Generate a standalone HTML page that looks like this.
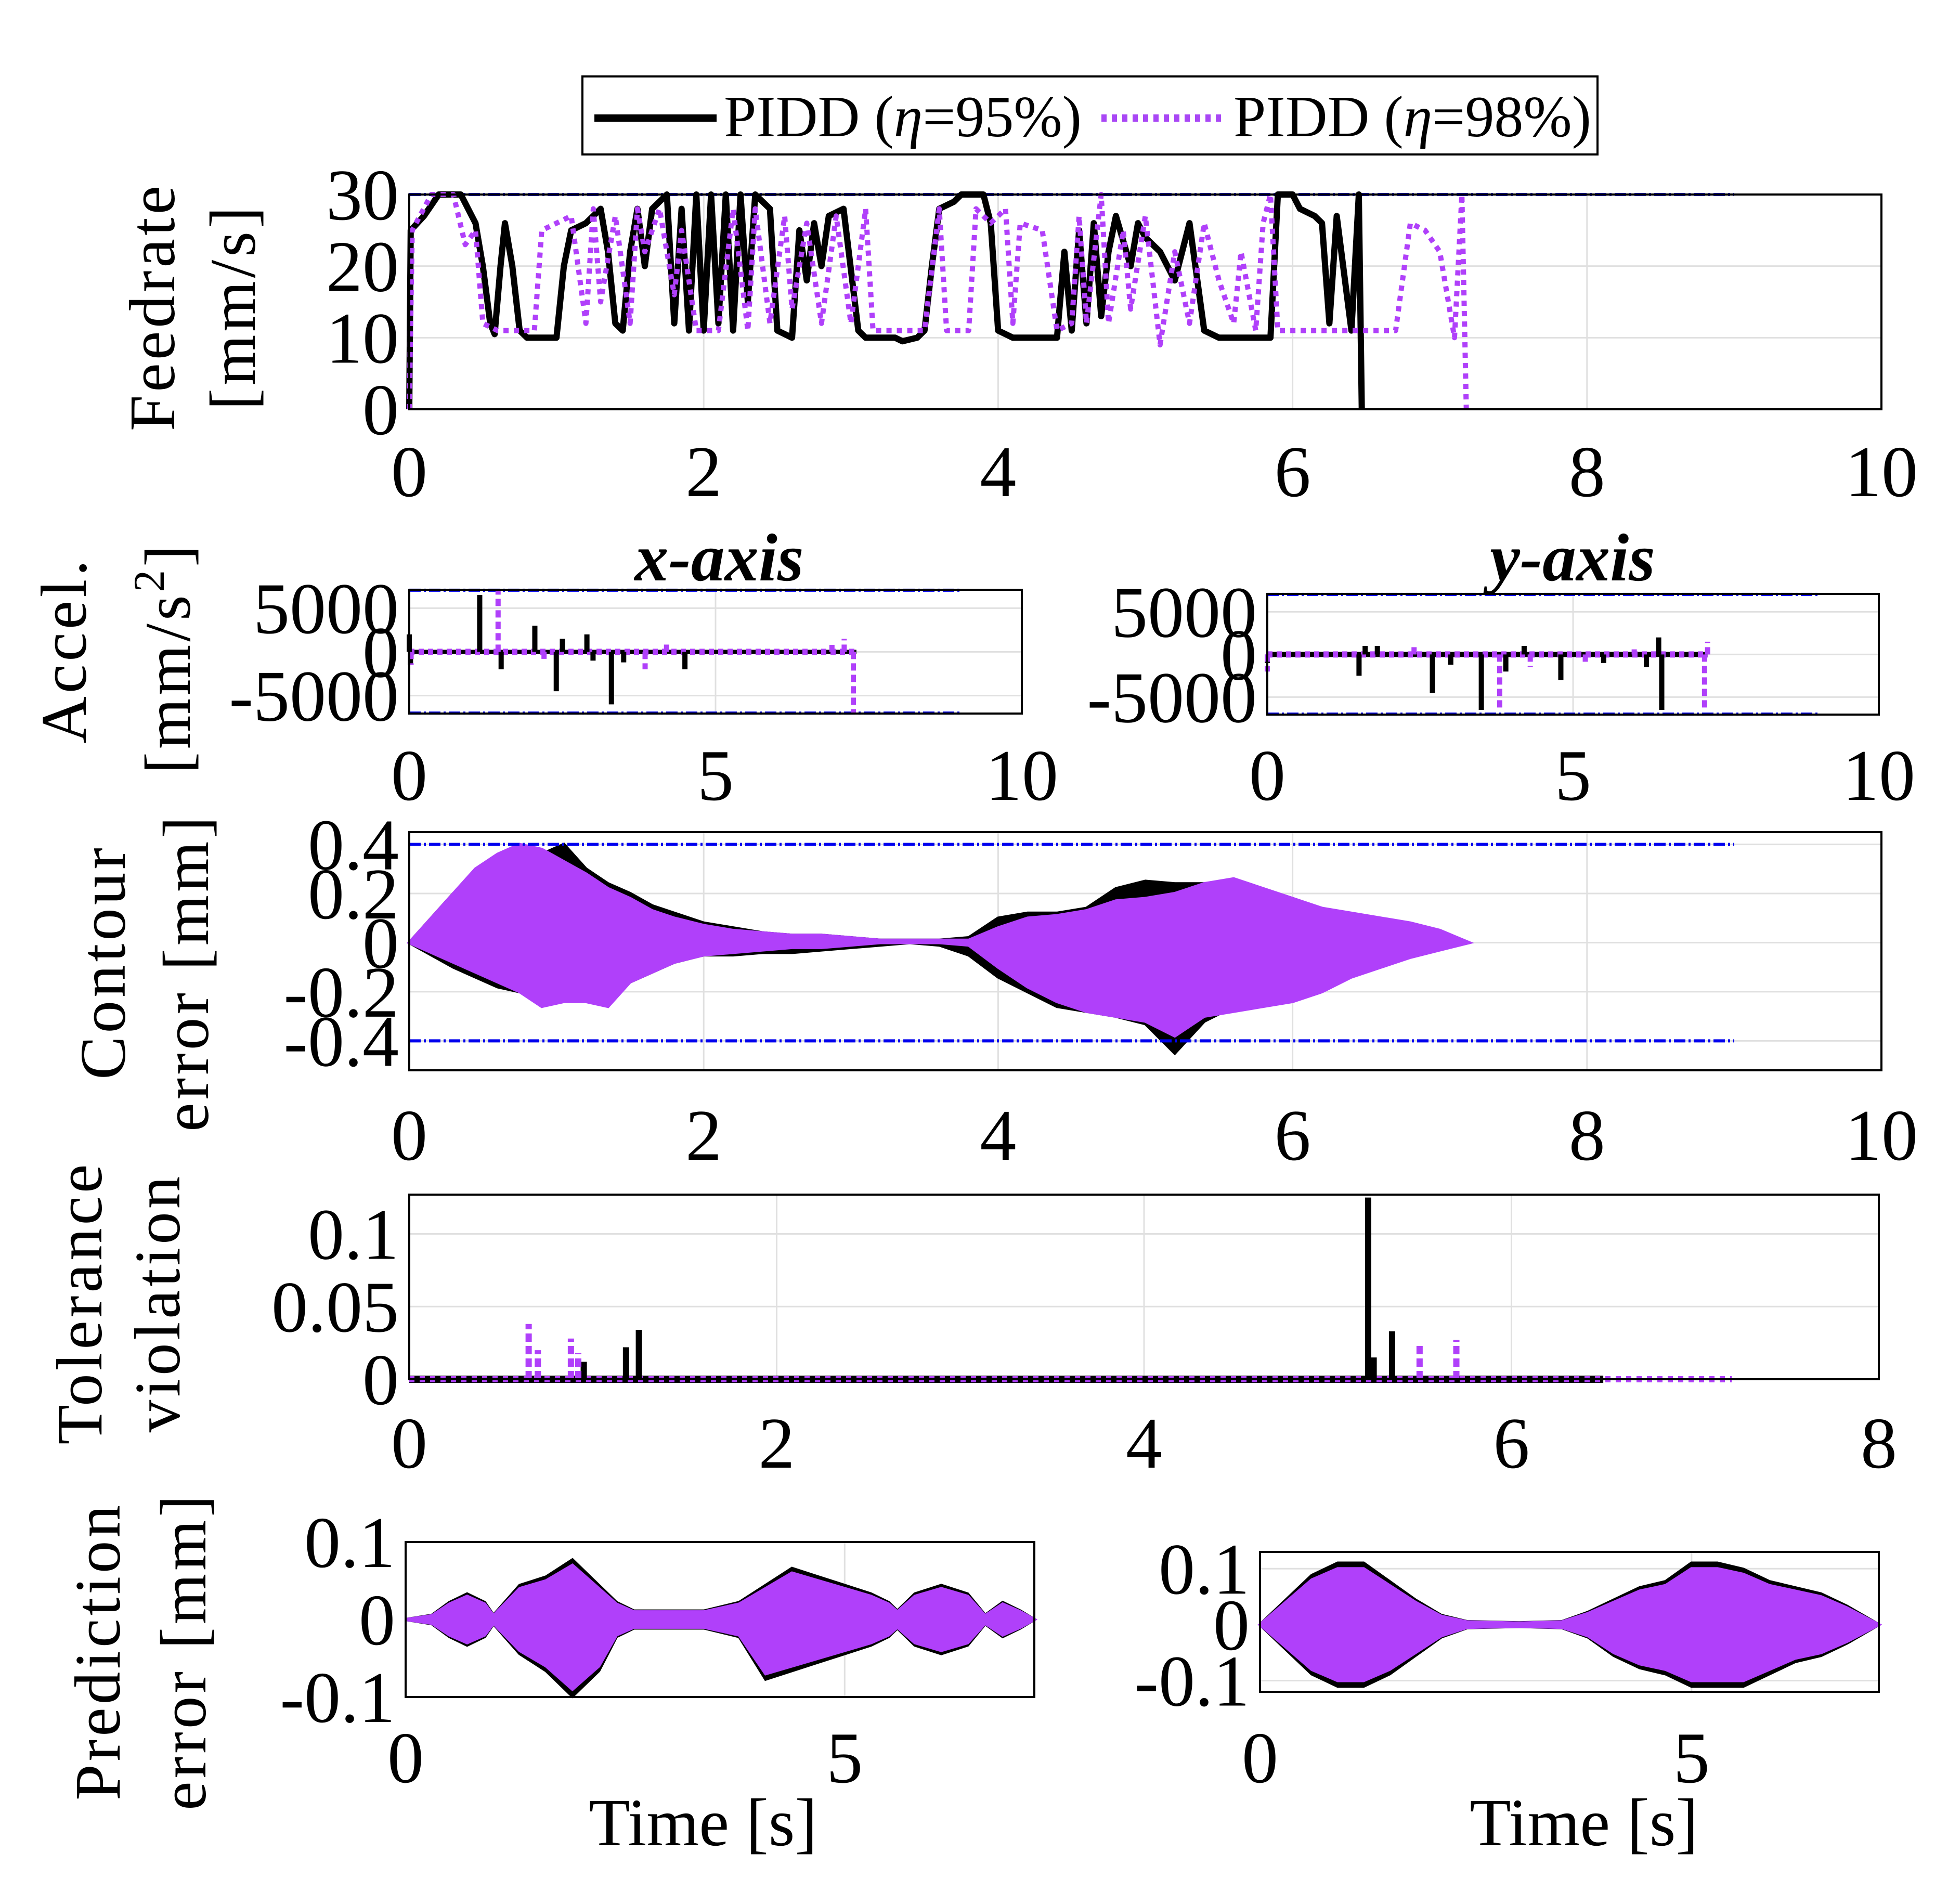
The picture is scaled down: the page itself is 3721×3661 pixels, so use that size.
<!DOCTYPE html>
<html><head><meta charset="utf-8"><style>html,body{margin:0;padding:0;background:#fff}svg{display:block}text{font-family:"Liberation Serif",serif;fill:#000}</style></head>
<body>
<svg id="fig" xmlns="http://www.w3.org/2000/svg" width="3721" height="3661" viewBox="0 0 3721 3661">
<rect x="0" y="0" width="3721" height="3661" fill="#fff"/>
<g>
<rect x="1120" y="147" width="1952" height="150" fill="#fff" stroke="#000" stroke-width="4"/>
<line x1="1143" y1="227" x2="1378" y2="227" stroke="#000" stroke-width="14"/>
<text x="1392" y="262" font-size="112">PIDD (<tspan font-style="italic">η</tspan>=95%)</text>
<line x1="2118" y1="227" x2="2352" y2="227" stroke="#a947f5" stroke-width="14" stroke-dasharray="10,10"/>
<text x="2372" y="262" font-size="112">PIDD (<tspan font-style="italic">η</tspan>=98%)</text>
</g>
<g id="plots"></g>
<g>
<text transform="translate(335,590) rotate(-90)" text-anchor="middle" font-size="125" letter-spacing="6">Feedrate</text>
<text transform="translate(490,590) rotate(-90)" text-anchor="middle" font-size="125" letter-spacing="6">[mm/s]</text>
<text transform="translate(165,1250) rotate(-90)" text-anchor="middle" font-size="125" letter-spacing="6">Accel.</text>
<text transform="translate(365,1265) rotate(-90)" text-anchor="middle" font-size="125" letter-spacing="6">[mm/s<tspan dy="-50" font-size="85">2</tspan><tspan dy="50">]</tspan></text>
<text transform="translate(240,1850) rotate(-90)" text-anchor="middle" font-size="125" letter-spacing="6">Contour</text>
<text transform="translate(400,1870) rotate(-90)" text-anchor="middle" font-size="125" letter-spacing="6">error [mm]</text>
<text transform="translate(195,2505) rotate(-90)" text-anchor="middle" font-size="125" letter-spacing="6">Tolerance</text>
<text transform="translate(345,2505) rotate(-90)" text-anchor="middle" font-size="125" letter-spacing="6">violation</text>
<text transform="translate(230,3175) rotate(-90)" text-anchor="middle" font-size="125" letter-spacing="6">Prediction</text>
<text transform="translate(395,3175) rotate(-90)" text-anchor="middle" font-size="125" letter-spacing="6">error [mm]</text>
<text x="1383" y="1116" text-anchor="middle" font-size="130" font-weight="bold" font-style="italic">x-axis</text>
<text x="3024" y="1116" text-anchor="middle" font-size="130" font-weight="bold" font-style="italic">y-axis</text>
<text x="1352" y="3548" text-anchor="middle" font-size="130">Time [s]</text>
<text x="3046" y="3548" text-anchor="middle" font-size="130">Time [s]</text>
</g>
</svg>
<script>
// ---------- data ----------
const feedBlackT=[0,0.01,0.1,0.2,0.35,0.45,0.5,0.55,0.58,0.62,0.65,0.7,0.75,0.8,1.0,1.05,1.1,1.2,1.3,1.35,1.4,1.45,1.5,1.55,1.6,1.65,1.75,1.8,1.85,1.9,1.95,2.0,2.05,2.1,2.15,2.2,2.25,2.3,2.35,2.45,2.5,2.6,2.65,2.7,2.75,2.8,2.85,2.95,3.05,3.1,3.3,3.35,3.45,3.5,3.55,3.6,3.7,3.75,3.9,3.95,4.0,4.1,4.4,4.45,4.5,4.55,4.6,4.65,4.7,4.75,4.8,4.9,4.95,5.0,5.1,5.2,5.3,5.4,5.5,5.85,5.9,6.0,6.05,6.15,6.2,6.25,6.3,6.4,6.45,6.47];
const feedBlackV=[0,25,27,30,30,26,20,12,10.5,20,26,20,11,10,10,20,25,26,28,22,12,11,22,28,20,28,30,12,28,11,30,11,30,12,30,11,30,15,30,28,11,10,25,18,26,20,27,28,11,10,10,9.5,10,11,20,28,29,30,30,26,11,10,10,22,11,25,12,26,13,22,27,20,26,24,22,18,26,11,10,10,30,30,28,27,26,12,27,11,30,0];
const feedPurpleT=[0,0.02,0.15,0.3,0.38,0.45,0.5,0.6,0.85,0.9,1.0,1.1,1.2,1.25,1.3,1.4,1.5,1.55,1.6,1.7,1.8,1.85,1.95,2.1,2.2,2.3,2.35,2.45,2.55,2.6,2.7,2.8,2.9,3.0,3.1,3.15,3.4,3.5,3.6,3.65,3.8,3.85,3.95,4.05,4.1,4.15,4.3,4.4,4.5,4.55,4.6,4.7,4.75,4.85,4.9,5.0,5.1,5.2,5.3,5.4,5.5,5.6,5.65,5.75,5.8,5.85,5.9,6.4,6.6,6.7,6.8,6.9,7.0,7.1,7.15,7.18];
const feedPurpleV=[0,25,30,30,23,25,12,11,11,25,26,27,12,28,15,27,12,28,22,28,16,25,11,11,28,11,28,12,27,14,26,12,27,12,28,11,11,11,28,11,11,28,26,28,12,26,25,11,12,27,12,30,12,25,14,27,9,22,12,26,18,12,22,11,26,30,11,11,11,11,26,25,22,10,30,0];

const accXBlackT=[0.0,0.02,1.15,1.5,2.05,2.4,2.5,2.9,3.0,3.3,3.5,4.5];
const accXBlackV=[2000,-1500,6500,-2000,3000,-4500,1500,2000,-1000,-6000,-1200,-2000];
const accXPurpleT=[0.03,1.45,2.2,3.85,4.2,6.9,7.1,7.25];
const accXPurpleV=[-1500,7000,-800,-2000,900,800,1500,-7000];
const accYBlackT=[0.0,1.5,1.6,1.8,2.7,3.0,3.5,3.9,4.2,4.8,5.5,6.2,6.4,6.45];
const accYBlackV=[-1000,-2500,1000,1000,-4500,-1200,-6500,-2000,1000,-3000,-1000,-1500,2000,-6500];
const accYPurpleT=[0.0,2.4,3.8,4.3,5.2,6.0,7.15,7.2];
const accYPurpleV=[-2000,1000,-6500,-1500,-1000,600,-6500,1500];

const contourT=[0,0.15,0.3,0.45,0.6,0.75,0.9,1.05,1.2,1.35,1.5,1.65,1.8,2.0,2.2,2.4,2.6,2.8,3.0,3.2,3.4,3.6,3.8,4.0,4.2,4.4,4.6,4.8,5.0,5.2,5.4,5.6,5.8,6.0,6.2,6.4,6.6,6.8,7.0,7.2];
const contourBlackUp=[0,0.1,0.2,0.28,0.34,0.36,0.36,0.4,0.3,0.24,0.2,0.15,0.12,0.08,0.06,0.04,0.03,0.03,0.02,0.01,0.01,0.01,0.02,0.1,0.12,0.12,0.14,0.22,0.25,0.24,0.24,0.2,0.18,0.14,0.1,0.08,0.06,0.05,0.03,0];
const contourBlackLo=[0,-0.05,-0.1,-0.14,-0.18,-0.2,-0.23,-0.22,-0.22,-0.2,-0.16,-0.12,-0.08,-0.05,-0.05,-0.04,-0.04,-0.03,-0.02,-0.01,0.0,-0.01,-0.05,-0.14,-0.2,-0.26,-0.28,-0.3,-0.33,-0.45,-0.32,-0.26,-0.22,-0.18,-0.14,-0.1,-0.07,-0.05,-0.02,0];
const contourPurpleUp=[0,0.1,0.2,0.3,0.36,0.4,0.38,0.33,0.28,0.22,0.18,0.13,0.1,0.07,0.05,0.04,0.03,0.03,0.02,0.01,0.01,0.01,0.01,0.06,0.1,0.11,0.13,0.17,0.18,0.2,0.24,0.26,0.22,0.18,0.14,0.12,0.1,0.08,0.05,0];
const contourPurpleLo=[0,-0.04,-0.08,-0.12,-0.16,-0.2,-0.26,-0.24,-0.24,-0.26,-0.16,-0.12,-0.08,-0.05,-0.04,-0.03,-0.02,-0.02,-0.01,0,0,0,-0.01,-0.1,-0.18,-0.24,-0.28,-0.3,-0.32,-0.38,-0.3,-0.28,-0.26,-0.24,-0.2,-0.14,-0.1,-0.06,-0.03,0];

const tolBlackT=[0.95,1.18,1.25,5.22,5.25,5.35];
const tolBlackV=[0.012,0.022,0.034,0.125,0.015,0.033];
const tolPurpleT=[0.65,0.7,0.88,0.92,5.5,5.7];
const tolPurpleV=[0.038,0.02,0.028,0.018,0.025,0.027];

const predLT=[0,0.3,0.5,0.7,0.9,1.0,1.3,1.6,1.9,2.2,2.4,2.6,3.0,3.4,3.8,4.1,4.4,4.7,5.0,5.3,5.5,5.6,5.8,6.1,6.4,6.6,6.8,7.0,7.16];
const predLUp=[0,0.005,0.02,0.03,0.02,0.005,0.04,0.05,0.07,0.04,0.02,0.01,0.01,0.01,0.02,0.04,0.06,0.05,0.04,0.03,0.02,0.01,0.03,0.04,0.03,0.005,0.02,0.01,0];
const predLLo=[0,-0.005,-0.02,-0.03,-0.02,-0.005,-0.04,-0.06,-0.09,-0.06,-0.02,-0.01,-0.01,-0.01,-0.02,-0.07,-0.06,-0.05,-0.04,-0.03,-0.02,-0.01,-0.03,-0.04,-0.03,-0.005,-0.02,-0.01,0];
const predRT=[0,0.3,0.6,0.9,1.2,1.5,1.8,2.1,2.4,3.0,3.5,3.8,4.1,4.4,4.7,5.0,5.3,5.6,5.9,6.2,6.5,6.8,7.17];
const predRUp=[0,0.04,0.08,0.1,0.1,0.07,0.04,0.015,0.005,0.003,0.005,0.02,0.04,0.06,0.07,0.1,0.1,0.09,0.07,0.06,0.05,0.03,0];
const predRLo=[0,-0.04,-0.08,-0.1,-0.1,-0.08,-0.05,-0.02,-0.005,-0.003,-0.005,-0.02,-0.05,-0.07,-0.08,-0.1,-0.1,-0.1,-0.08,-0.06,-0.05,-0.03,0];

const feedTicks=[0,10,20,30], timeTicks10=[0,2,4,6,8,10], timeTicks5=[0,5,10], accTicks=[-5000,0,5000];
const contourTicks=[-0.4,-0.2,0,0.2,0.4], tolTicks=[0,0.05,0.1], timeTicks8=[0,2,4,6,8], predTicks=[-0.1,0,0.1], predXTicks=[0,5];
const purple="#b040fa", NS="http://www.w3.org/2000/svg";
const root=document.getElementById('plots');

function mk(tag,attrs,parent){const e=document.createElementNS(NS,tag);for(const k in attrs)e.setAttribute(k,attrs[k]);(parent||root).appendChild(e);return e;}
function axes(name,x0,x1,y0,y1,xmin,xmax,ymin,ymax,xt,yt,xlabY,fmtY,yLabX){
  const g=mk('g',{});
  
  
  const sx=v=>x0+(v-xmin)/(xmax-xmin)*(x1-x0), sy=v=>y1-(v-ymin)/(ymax-ymin)*(y1-y0);
  xt.forEach(v=>{const X=sx(v);if(X>x0+2&&X<x1-2)mk('line',{x1:X,y1:y0,x2:X,y2:y1,stroke:'#e0e0e0','stroke-width':3},g);
    const t=mk('text',{x:X,y:xlabY,'text-anchor':'middle','font-size':140},g);t.textContent=v;
    
    });
  yt.forEach(v=>{const Y=sy(v);if(Y>y0+2&&Y<y1-2)mk('line',{x1:x0,y1:Y,x2:x1,y2:Y,stroke:'#e0e0e0','stroke-width':3},g);
    const t=mk('text',{x:(yLabX||x0-20),y:Y+48,'text-anchor':'end','font-size':140},g);t.textContent=fmtY?fmtY(v):v;
    
    });
  const plot=mk('g',{},g);
  mk('rect',{x:x0,y:y0,width:x1-x0,height:y1-y0,fill:'none',stroke:'#000','stroke-width':4},g);
  return {g:plot,sx,sy};
}
function line(a,T,V,col,w,dash,name){let d='';T.forEach((t,i)=>{d+=(i?'L':'M')+a.sx(t).toFixed(1)+','+a.sy(V[i]).toFixed(1);});
  const p=mk('path',{d,fill:'none',stroke:col,'stroke-width':w,'stroke-linejoin':'round'},a.g);if(dash)p.setAttribute('stroke-dasharray',dash);
  
  }
function band(a,T,U,L,col,name){let d='';T.forEach((t,i)=>{d+=(i?'L':'M')+a.sx(t).toFixed(1)+','+a.sy(U[i]).toFixed(1);});
  for(let i=T.length-1;i>=0;i--)d+='L'+a.sx(T[i]).toFixed(1)+','+a.sy(L[i]).toFixed(1);
  const p=mk('path',{d:d+'Z',fill:col,stroke:col,'stroke-width':6},a.g);
  
  }
function spikes(a,T,V,col,w,dash,name){T.forEach((t,i)=>{const l=mk('line',{x1:a.sx(t),x2:a.sx(t),y1:a.sy(0),y2:a.sy(V[i]),stroke:col,'stroke-width':w},a.g);
  if(dash)l.setAttribute('stroke-dasharray',dash);
  
  });}
function limit(a,v,xmax,name){const l=mk('line',{x1:a.sx(0),x2:a.sx(xmax),y1:a.sy(v),y2:a.sy(v),stroke:'#0000ee','stroke-width':6,'stroke-dasharray':'22,6,4,6'},a.g);
  
  }

// Feedrate
const fa=axes('feedrate-plot',787,3618,374,787,0,10,0,30,timeTicks10,feedTicks,954);
limit(fa,30,9,'feedrate-limit');
line(fa,feedBlackT,feedBlackV,'#000',12,null,'feedrate-eta95');
line(fa,feedPurpleT,feedPurpleV,purple,10,'10,10','feedrate-eta98');

// Accel x / y
const ax=axes('accel-x-plot',787,1965,1134,1372,0,10,-7050,7100,timeTicks5,accTicks,1538);
limit(ax,7050,9,'accel-x-upper-limit');limit(ax,-7000,9,'accel-x-lower-limit');
line(ax,[0,7.3],[0,0],'#000',8,null,'accel-x-baseline-95');
line(ax,[0,7.3],[0,0],purple,12,'10,8','accel-x-baseline-98');
spikes(ax,accXBlackT,accXBlackV,'#000',10,null,'accel-x-spike-95');
spikes(ax,accXPurpleT,accXPurpleV,purple,10,'14,8','accel-x-spike-98');
const ay=axes('accel-y-plot',2437,3613,1142,1374,0,10,-7050,7100,timeTicks5,accTicks,1538);
limit(ay,7050,9,'accel-y-upper-limit');limit(ay,-7000,9,'accel-y-lower-limit');
line(ay,[0,7.2],[0,0],'#000',10,null,'accel-y-baseline-95');
line(ay,[0,7.2],[0,0],purple,12,'10,8','accel-y-baseline-98');
spikes(ay,accYBlackT,accYBlackV,'#000',10,null,'accel-y-spike-95');
spikes(ay,accYPurpleT,accYPurpleV,purple,10,'14,8','accel-y-spike-98');

// Contour
const ca=axes('contour-plot',787,3618,1600,2058,0,10,-0.52,0.45,timeTicks10,contourTicks,2230,v=>v);
band(ca,contourT,contourBlackUp,contourBlackLo,'#000','contour-eta95');
band(ca,contourT,contourPurpleUp,contourPurpleLo,purple,'contour-eta98');
limit(ca,0.4,9,'contour-upper-limit');limit(ca,-0.4,9,'contour-lower-limit');

// Tolerance
const ta=axes('tolerance-plot',787,3613,2297,2652,0,8,0,0.127,timeTicks8,tolTicks,2822);
line(ta,[0,6.5],[0,0],'#000',14,null,'tolerance-baseline-95');
line(ta,[0,7.2],[0,0],purple,12,'10,10','tolerance-baseline-98');
spikes(ta,tolBlackT,tolBlackV,'#000',12,null,'tolerance-spike-95');
spikes(ta,tolPurpleT,tolPurpleV,purple,12,'16,8','tolerance-spike-98');

// Prediction
const pl=axes('prediction-x-plot',780,1989,2965,3263,0,7.16,-0.1,0.1,predXTicks,predTicks,3427);
band(pl,predLT,predLUp.map(v=>v*1.1),predLLo.map(v=>v*1.1),'#000','prediction-x-eta95');
band(pl,predLT,predLUp,predLLo,purple,'prediction-x-eta98');
const pr=axes('prediction-y-plot',2423,3613,2984,3253,0,7.17,-0.12,0.13,predXTicks,predTicks,3427);
band(pr,predRT,predRUp.map(v=>v*1.1),predRLo.map(v=>v*1.1),'#000','prediction-y-eta95');
band(pr,predRT,predRUp,predRLo,purple,'prediction-y-eta98');
</script>
</body></html>
